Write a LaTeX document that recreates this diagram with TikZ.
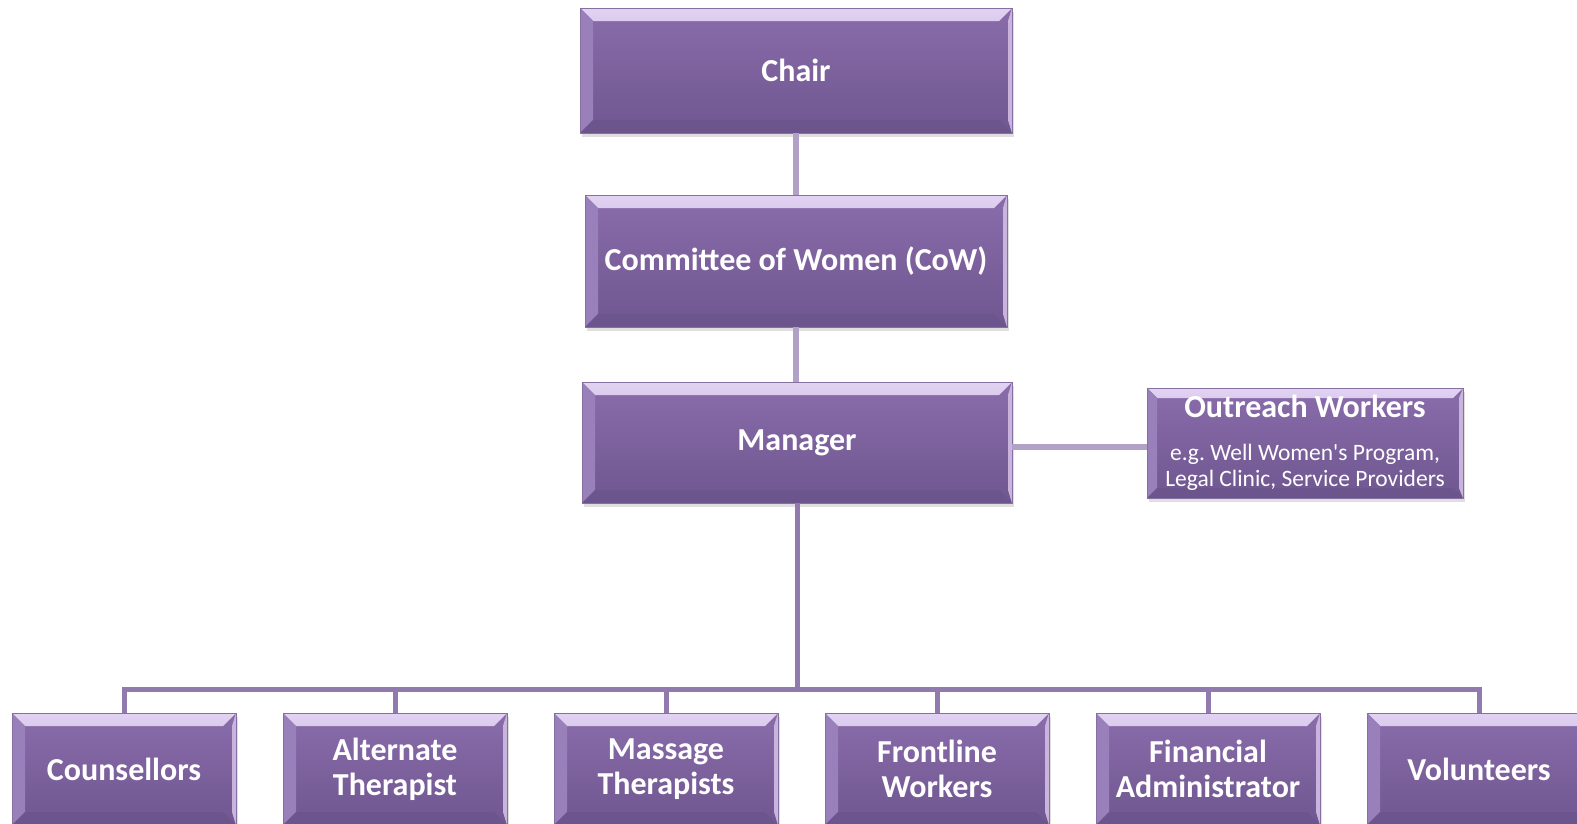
\documentclass[tikz,border=0pt]{standalone}
\usepackage{fontspec}
\setmainfont{Carlito}
\usetikzlibrary{shadows}

\definecolor{boxtop}{HTML}{8A6CAB}
\definecolor{boxbot}{HTML}{6F5790}
\definecolor{bevelhi}{HTML}{E2D3F3}
\definecolor{bevello}{HTML}{A088C0}
\definecolor{bevelleft}{HTML}{9A80BA}
\definecolor{bevelbot}{HTML}{6C558D}
\definecolor{linklight}{HTML}{B2A1C7}
\definecolor{linkdark}{HTML}{917AAE}

\newcommand{\bevelsize}{13pt}
\tikzset{
  bevel/.store in=\bevelsize,
  orgbox/.style={rectangle, top color=boxtop, bottom color=boxbot,
    draw=boxbot!85!white, line width=0.8pt, text=white, align=center,
    font=\bfseries\fontsize{32}{35}\selectfont, inner sep=0pt,
    drop shadow={shadow xshift=2pt, shadow yshift=-4pt, opacity=0.25},
    path picture={
      % bevel edges
      \shade[top color=bevelhi, bottom color=bevello]
        (path picture bounding box.north west) -- (path picture bounding box.north east)
        -- ([xshift=-\bevelsize,yshift=-\bevelsize]path picture bounding box.north east)
        -- ([xshift=\bevelsize,yshift=-\bevelsize]path picture bounding box.north west) -- cycle;
      \fill[bevelleft]
        (path picture bounding box.north west) -- ([xshift=\bevelsize,yshift=-\bevelsize]path picture bounding box.north west)
        -- ([xshift=\bevelsize,yshift=\bevelsize]path picture bounding box.south west)
        -- (path picture bounding box.south west) -- cycle;
      \fill[bevelbot]
        (path picture bounding box.south west) -- ([xshift=\bevelsize,yshift=\bevelsize]path picture bounding box.south west)
        -- ([xshift=-\bevelsize,yshift=\bevelsize]path picture bounding box.south east)
        -- (path picture bounding box.south east) -- cycle;
      \fill[bevelhi!70!boxtop]
        (path picture bounding box.north east) -- ([xshift=-4pt,yshift=-\bevelsize]path picture bounding box.north east)
        -- ([xshift=-4pt,yshift=\bevelsize]path picture bounding box.south east)
        -- (path picture bounding box.south east) -- cycle;
    }},
  topbox/.style={orgbox, minimum width=#1, minimum height=125pt},
  staffbox/.style={orgbox, minimum width=224pt, minimum height=112pt},
  lightlink/.style={draw=linklight, line width=6pt},
  darklink/.style={draw=linkdark, line width=5pt},
}

\begin{document}
\frenchspacing
\begin{tikzpicture}[x=1pt, y=-1pt]
  \fill[white] (0,0) rectangle (1577,823);
  \useasboundingbox (0,0) rectangle (1577,823);

  % top of the chart
  \node[topbox=432pt] (chair) at (796,70.5) {Chair};
  \node[topbox=422pt, minimum height=132pt] (cow) at (796,261) {Committee of Women (CoW)};
  \node[topbox=430pt, minimum height=121pt] (manager) at (797,442.5) {Manager};
  \node[orgbox, bevel=10pt, minimum width=316pt, minimum height=110pt,
    font=\fontsize{23.5}{26.5}\selectfont] (outreach) at (1305,443)
    {{\bfseries\fontsize{32}{35}\selectfont Outreach Workers}\\[16.5pt]
     e.g. Well Women\textquotesingle s Program,\\
     Legal Clinic, Service Providers};

  % staff row
  \foreach \name/\x/\txt in {counsellors/124/Counsellors,
      alternate/395/Alternate\\Therapist,
      massage/666/Massage\\Therapists,
      frontline/937/Frontline\\Workers,
      financial/1208/Financial\\Administrator,
      volunteers/1479/Volunteers}
    \node[staffbox] (\name) at (\x,769) {\txt};

  % connectors
  \coordinate (bus) at (797,689);
  \draw[lightlink] (chair.south) -- (chair.south |- cow.north);
  \draw[lightlink] (cow.south) -- (cow.south |- manager.north);
  \draw[lightlink] ([yshift=-4pt]manager.east) -- ([yshift=-4pt]manager.east -| outreach.west);
  \draw[darklink] (manager.south) -- (bus);
  \foreach \name in {counsellors,alternate,massage,frontline,financial,volunteers}
    \draw[darklink] (\name.north) |- (bus);
\end{tikzpicture}
\end{document}
